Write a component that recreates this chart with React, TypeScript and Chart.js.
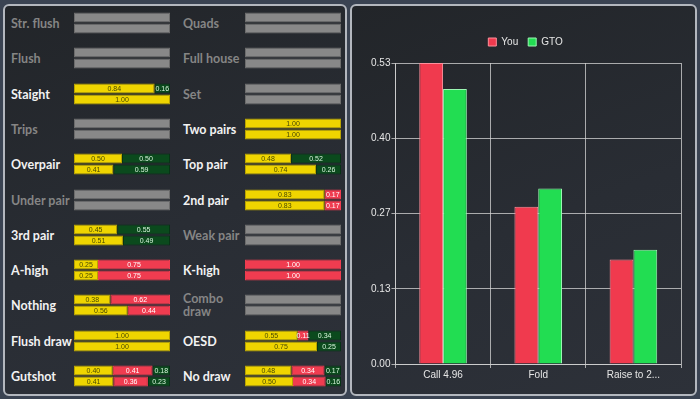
import React, { useEffect, useRef } from "react";
import { Chart, registerables } from "chart.js";

Chart.register(...registerables);

// ---------- Data ----------
const hands = [
  "Str. flush", "Quads",
  "Flush", "Full house",
  "Staight", "Set",
  "Trips", "Two pairs",
  "Overpair", "Top pair",
  "Under pair", "2nd pair",
  "3rd pair", "Weak pair",
  "A-high", "K-high",
  "Nothing", "Combo draw",
  "Flush draw", "OESD",
  "Gutshot", "No draw",
];
const youCall = [null, null, null, null, 0.84, null, null, 1.0, 0.5, 0.48, null, 0.83, 0.45, null, 0.25, 0, 0.38, null, 1.0, 0.55, 0.4, 0.48];
const youFold = [null, null, null, null, 0, null, null, 0, 0, 0, null, 0.17, 0, null, 0.75, 1.0, 0.62, null, 0, 0.11, 0.41, 0.34];
const youRaise = [null, null, null, null, 0.16, null, null, 0, 0.5, 0.52, null, 0, 0.55, null, 0, 0, 0, null, 0, 0.34, 0.18, 0.17];
const gtoCall = [null, null, null, null, 1.0, null, null, 1.0, 0.41, 0.74, null, 0.83, 0.51, null, 0.25, 0, 0.56, null, 1.0, 0.75, 0.41, 0.5];
const gtoFold = [null, null, null, null, 0, null, null, 0, 0, 0, null, 0.17, 0, null, 0.75, 1.0, 0.44, null, 0, 0, 0.36, 0.34];
const gtoRaise = [null, null, null, null, 0, null, null, 0, 0.59, 0.26, null, 0, 0.49, null, 0, 0, 0, null, 0, 0.25, 0.23, 0.16];

const actions = ["Call 4.96", "Fold", "Raise to 2..."];
const youFreq = [0.53, 0.277, 0.184];
const gtoFreq = [0.484, 0.309, 0.201];
const yTicks = [0, 0.1325, 0.265, 0.3975, 0.53];
const yMax = 0.53;

// ---------- Styles ----------
const YELLOW = "#efd500";
const RED = "#f03c50";
const GREEN = "#0b4a1d";
const GRAY = "#888888";
const LABEL_FONT = "Lato, 'Open Sans', sans-serif";
const CHART_FONT = "'Liberation Sans', Arial, sans-serif";

const segLabelPlugin = {
  id: "segLabels",
  afterDatasetsDraw(chart: any) {
    const ctx = chart.ctx;
    ctx.save();
    ctx.font = "7px 'Liberation Sans', Arial, sans-serif";
    ctx.textAlign = "center";
    ctx.textBaseline = "middle";
    chart.data.datasets.forEach((ds: any, di: number) => {
      if (!ds.showText) return;
      const meta = chart.getDatasetMeta(di);
      meta.data.forEach((el: any, i: number) => {
        const raw = ds.rawValues[i];
        if (raw == null || raw <= 0) return;
        ctx.fillStyle = ds.textColor;
        ctx.fillText(raw.toFixed(2), (el.x + el.base) / 2, el.y + 0.5);
      });
    });
    ctx.restore();
  },
};

const legendSpacePlugin = {
  id: "legendSpace",
  afterInit(chart: any) {
    const legend = chart.legend;
    if (!legend) return;
    const orig = legend.fit.bind(legend);
    legend.fit = function () {
      orig();
      this.height += 6;
    };
  },
};

function MiniBar({ idx }: { idx: number }) {
  const ref = useRef<HTMLCanvasElement>(null);
  useEffect(() => {
    const rows = [
      [youCall[idx], youFold[idx], youRaise[idx]],
      [gtoCall[idx], gtoFold[idx], gtoRaise[idx]],
    ];
    const hasData = rows.some((r) => r.some((v) => v != null));
    const norm = (r: (number | null)[], k: number) => {
      const s = r.reduce((a: number, b) => a + (b || 0), 0);
      const v = r[k];
      return v && v > 0 && s > 0 ? v / s : null;
    };
    const mk = (k: number, label: string, bg: string, border: string, text: string) => ({
      label,
      data: rows.map((r) => norm(r, k)),
      rawValues: rows.map((r) => r[k]),
      backgroundColor: bg,
      borderColor: border,
      borderWidth: 1,
      borderSkipped: false,
      showText: true,
      textColor: text,
    });
    const datasets: any[] = hasData
      ? [
          mk(0, "Call", YELLOW, "#b9a300", "#4a4a00"),
          mk(1, "Fold", RED, "#f03c50", "#ffffff"),
          mk(2, "Raise", GREEN, "#073315", "#d8f5dc"),
        ]
      : [
          {
            label: "None",
            data: [1, 1],
            rawValues: [null, null],
            backgroundColor: GRAY,
            borderColor: "#6c6c6c",
            borderWidth: 1,
            borderSkipped: false,
            showText: false,
          },
        ];
    const chart = new Chart(ref.current!, {
      type: "bar",
      data: { labels: ["You", "GTO"], datasets },
      options: {
        indexAxis: "y",
        animation: false,
        responsive: false,
        maintainAspectRatio: false,
        categoryPercentage: 0.9,
        barPercentage: 1,
        layout: { padding: 0 },
        plugins: { legend: { display: false }, tooltip: { enabled: false } },
        scales: {
          x: { display: false, stacked: true, min: 0, max: 1 },
          y: { display: false, stacked: true },
        },
      } as any,
      plugins: [segLabelPlugin],
    });
    return () => chart.destroy();
  }, [idx]);
  return <canvas ref={ref} width={96} height={22} style={{ display: "block", width: 96, height: 22 }} />;
}

function BigChart() {
  const ref = useRef<HTMLCanvasElement>(null);
  useEffect(() => {
    const gridColor = "rgba(215,215,215,0.75)";
    const chart = new Chart(ref.current!, {
      type: "bar",
      data: {
        labels: actions,
        datasets: [
          {
            label: "You",
            data: youFreq,
            backgroundColor: "#f03a4e",
            borderColor: "#ff8f9b",
            borderWidth: 1,
          },
          {
            label: "GTO",
            data: gtoFreq,
            backgroundColor: "#22dd52",
            borderColor: "#9cf7b4",
            borderWidth: 1,
          },
        ],
      },
      options: {
        animation: false,
        responsive: false,
        maintainAspectRatio: false,
        categoryPercentage: 0.5,
        barPercentage: 1,
        layout: { padding: { left: 18, right: 14, top: 21, bottom: 12 } },
        plugins: {
          legend: {
            labels: {
              boxWidth: 8,
              boxHeight: 8,
              color: "#e6e6e6",
              font: { family: CHART_FONT, size: 10 },
              padding: 10,
            },
          },
          tooltip: { enabled: false },
        },
        scales: {
          x: {
            grid: { color: gridColor, offset: true, tickLength: 4 },
            border: { color: gridColor },
            ticks: { color: "#e6e6e6", font: { family: CHART_FONT, size: 10 }, padding: 1 },
          },
          y: {
            min: 0,
            max: yMax,
            afterBuildTicks: (axis: any) => {
              axis.ticks = yTicks.map((v) => ({ value: v }));
            },
            grid: { color: gridColor, tickLength: 4 },
            border: { color: gridColor },
            ticks: {
              color: "#e6e6e6",
              font: { family: CHART_FONT, size: 10 },
              padding: 1,
              callback: (v: any) => Number(v).toFixed(2),
            },
          },
        },
      } as any,
      plugins: [legendSpacePlugin],
    });
    return () => chart.destroy();
  }, []);
  return <canvas ref={ref} width={343} height={388} style={{ display: "block", width: 343, height: 388 }} />;
}

export default function App() {
  useEffect(() => {
    document.body.style.margin = "0";
  }, []);
  const panelBg = "linear-gradient(160deg, #222529 0%, #292d34 55%, #2d3139 100%)";
  const panel = {
    position: "absolute" as const,
    boxSizing: "border-box" as const,
    border: "2px solid #b3b7be",
    borderRadius: 6,
    background: panelBg,
  };
  return (
    <div style={{ position: "relative", width: 700, height: 399, background: "#3a4352", overflow: "hidden" }}>
      <div style={{ ...panel, left: 3, top: 4, width: 344, height: 392 }} />
      <div style={{ ...panel, left: 350, top: 4, width: 347, height: 392 }} />
      {hands.map((h, i) => {
        const col = i % 2;
        const row = Math.floor(i / 2);
        const top = Math.round(12 + row * 35.3);
        const active = [youCall[i], youFold[i], youRaise[i], gtoCall[i], gtoFold[i], gtoRaise[i]].some((v) => v != null);
        const labelX = col ? 183 : 11;
        const barX = col ? 245 : 74;
        const wrapped = h === "Combo draw";
        return (
          <React.Fragment key={h}>
            <div
              style={{
                position: "absolute",
                left: labelX,
                top: top,
                height: 22,
                width: 62,
                display: "flex",
                alignItems: "center",
                fontFamily: LABEL_FONT,
                fontWeight: 700,
                fontSize: 12.5,
                lineHeight: "13px",
                color: active ? "#f2f2f2" : "#858585",
                whiteSpace: wrapped ? "pre-line" : "nowrap",
              }}
            >
              {wrapped ? h.replace(" ", "\n") : h}
            </div>
            <div style={{ position: "absolute", left: barX, top: top }}>
              <MiniBar idx={i} />
            </div>
          </React.Fragment>
        );
      })}
      <div style={{ position: "absolute", left: 352, top: 6 }}>
        <BigChart />
      </div>
    </div>
  );
}
